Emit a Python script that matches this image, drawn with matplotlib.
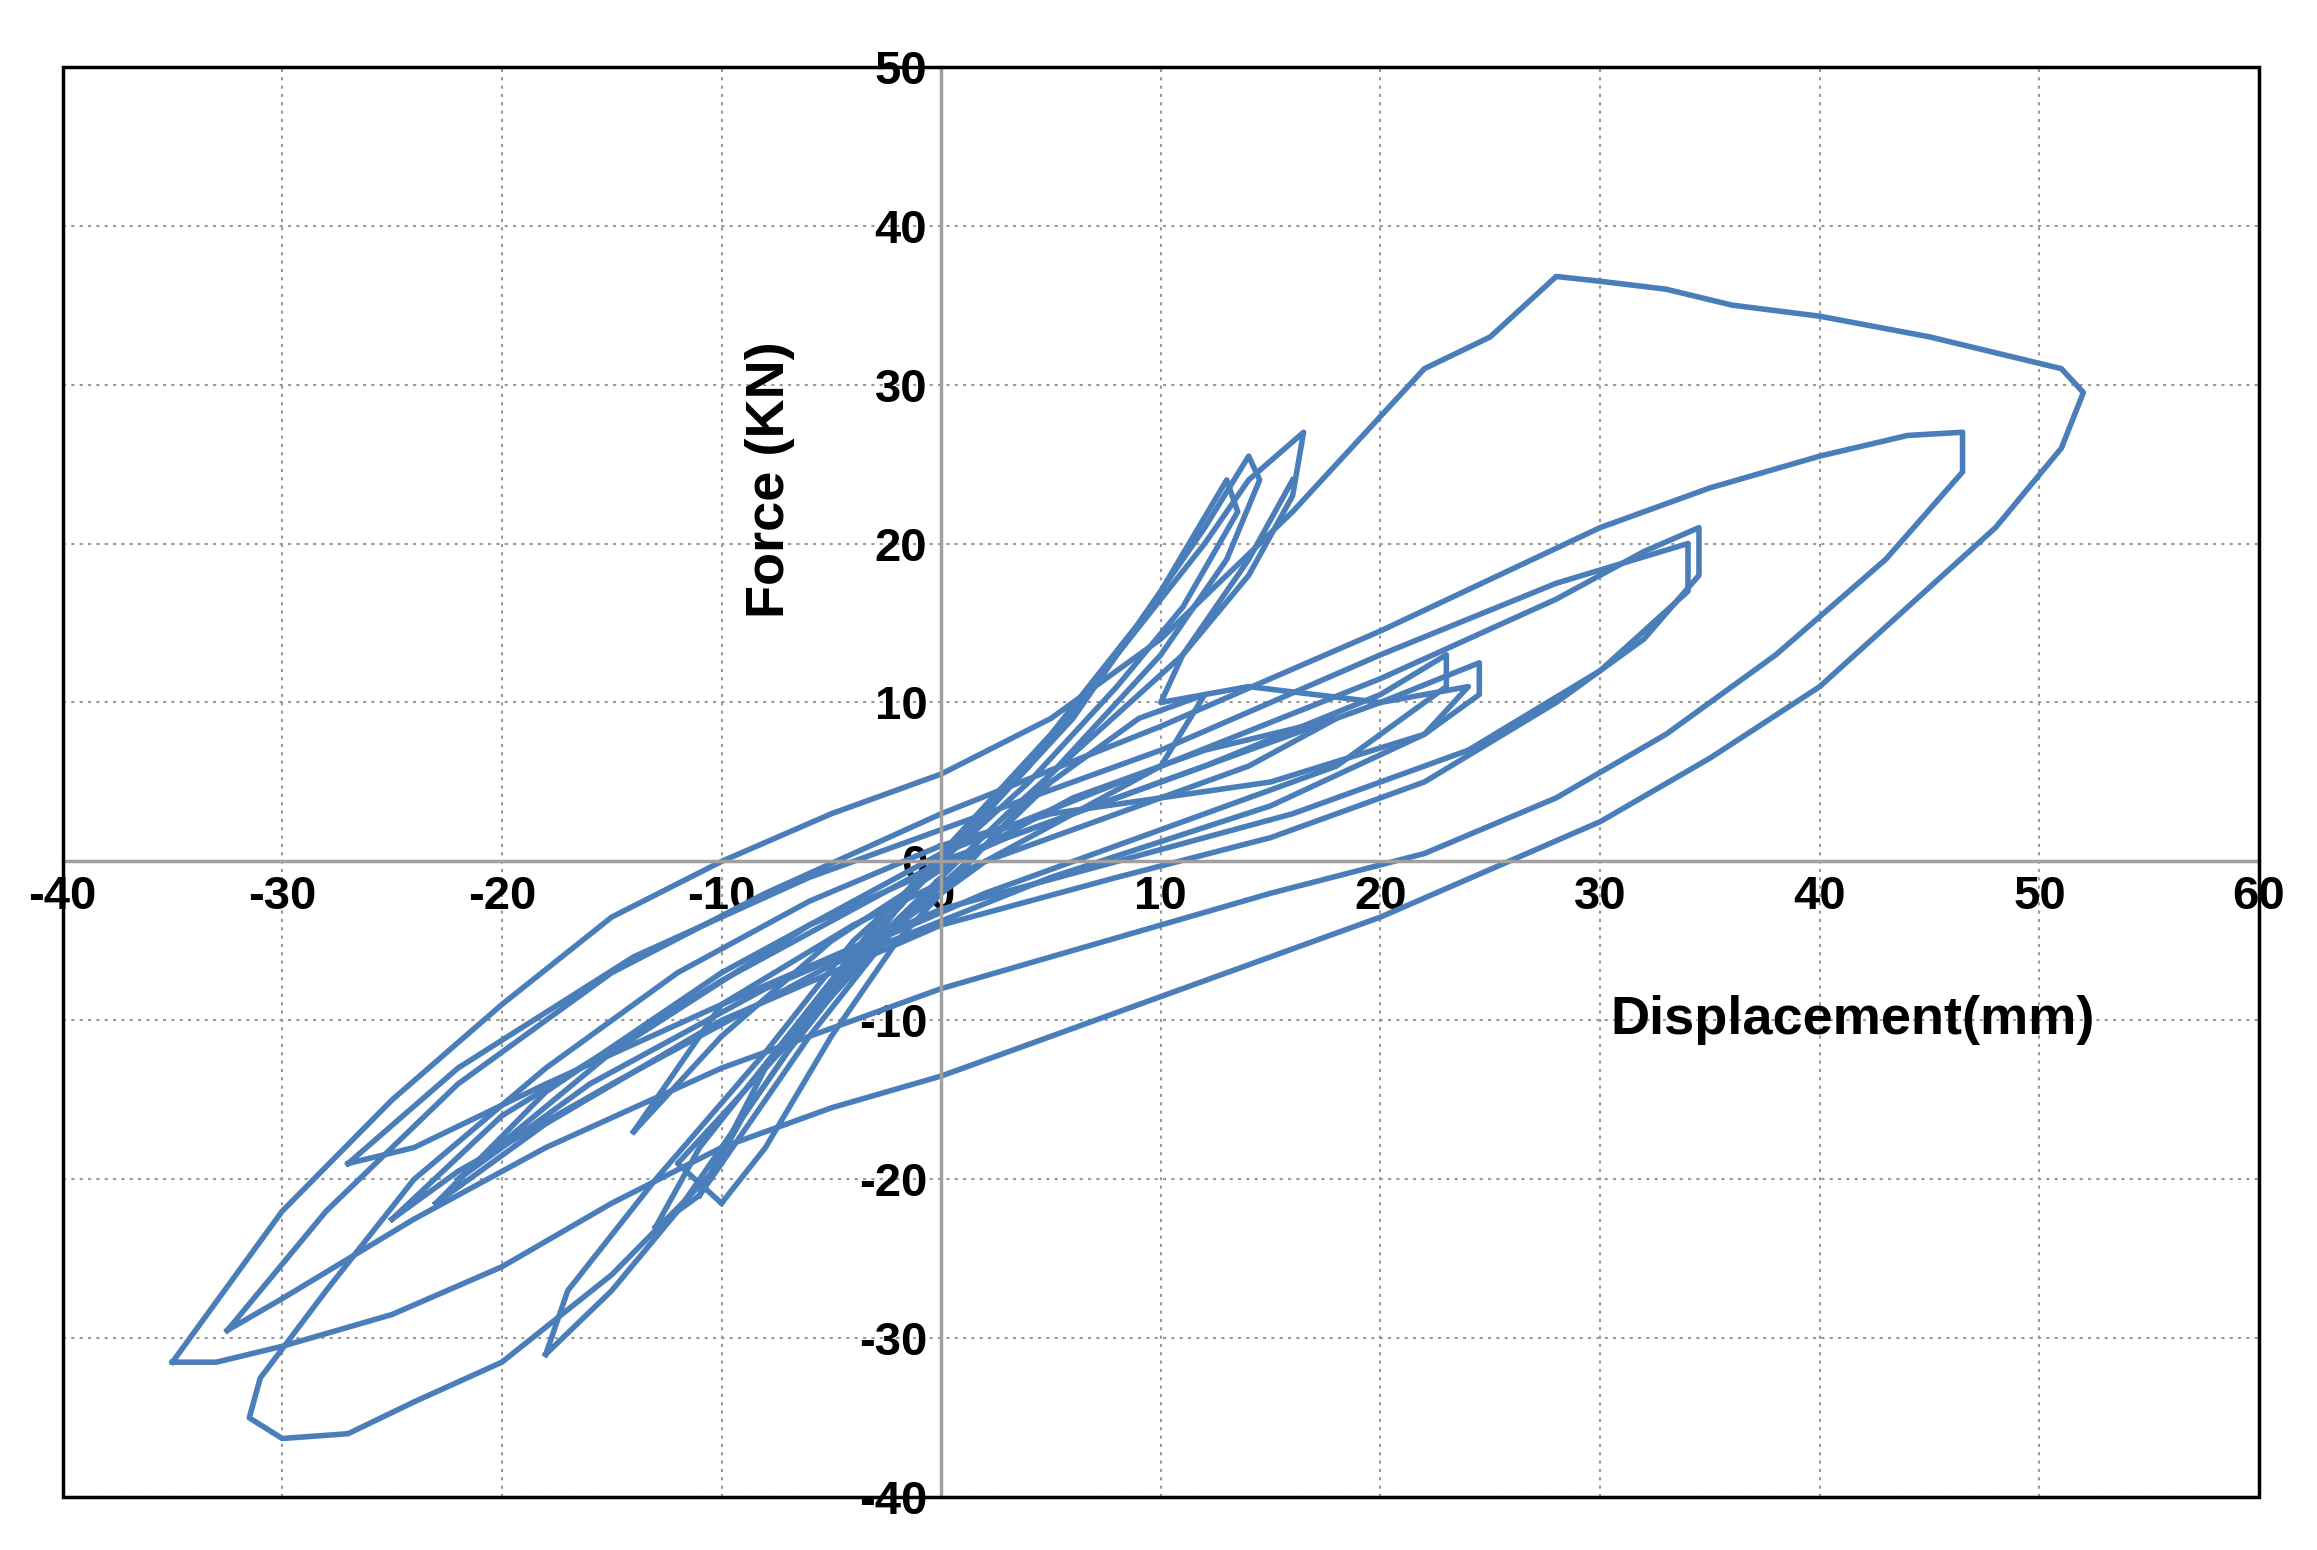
import matplotlib
matplotlib.use("Agg")
import matplotlib.pyplot as plt
from matplotlib.patches import Rectangle

x_ticks = [-40, -30, -20, -10, 0, 10, 20, 30, 40, 50, 60]
y_ticks = [-40, -30, -20, -10, 0, 10, 20, 30, 40, 50]

loop_a = [(-35,-31.5),(-30,-22),(-25,-15),(-20,-9),(-15,-3.5),(-10,0),(-5,3),(0,5.5),(5,9),(10,14),(13,18),(16,22),(18,25),(20,28),(22,31),(25,33),(28,36.8),(30,36.5),(33,36),(36,35),(40,34.3),(45,33),(48,32),(51,31),(52,29.5),(51,26),(48,21),(44,16),(40,11),(35,6.5),(30,2.5),(25,-0.5),(20,-3.5),(15,-6),(10,-8.5),(5,-11),(0,-13.5),(-5,-15.5),(-10,-18),(-15,-21.5),(-20,-25.5),(-25,-28.5),(-30,-30.5),(-33,-31.5),(-35,-31.5)]
loop_a2 = [(-10,-19),(-15,-26),(-20,-31.5),(-24,-34),(-27,-36),(-30,-36.3),(-31.5,-35),(-31,-32.5),(-28,-27),(-24,-20),(-18,-13),(-12,-7),(-6,-2.5),(0,1)]
loop_b = [(-32.5,-29.5),(-28,-22),(-22,-14),(-15,-7),(-8,-2),(0,3),(10,8.5),(20,14.5),(30,21),(35,23.5),(40,25.5),(44,26.8),(46.5,27),(46.5,24.5),(43,19),(38,13),(33,8),(28,4),(22,0.5),(15,-2),(5,-6),(0,-8),(-10,-13),(-18,-18),(-24,-22.5),(-30,-27.5),(-32.5,-29.5)]
loop_c = [(-23,-21.5),(-18,-14.5),(-10,-7),(0,0.5),(10,6),(20,11.5),(28,16.5),(32,19.5),(34.5,21),(34.5,18),(32,14),(28,10),(22,5),(15,1.5),(8,-1),(0,-4),(-10,-10),(-18,-16.5),(-23,-21.5)]
loop_c2 = [(-27,-19),(-22,-13),(-14,-6),(-6,-1),(0,2),(10,7),(20,13),(28,17.5),(34,20),(34,17),(30,12),(24,7),(16,3),(8,0),(0,-3),(-10,-9),(-18,-14),(-24,-18),(-27,-19)]
loop_d = [(-25,-22.5),(-20,-16),(-10,-7.5),(0,0),(10,5),(20,10),(24.5,12.5),(24.5,10.5),(22,8),(15,3.5),(5,-1),(-5,-6.5),(-15,-14),(-22,-19.5),(-25,-22.5)]
loop_d2 = [(-22,-20),(-15,-12),(-6,-4),(3,1.5),(12,6),(20,10.5),(23,13),(23,11),(18,6),(10,2),(2,-2),(-8,-8),(-16,-14),(-22,-20)]
loop_e = [(-18,-31),(-17,-27),(-13,-20),(-8,-12),(-4,-5),(0,0),(4,6),(8,13),(12,20),(14,24),(16.5,27),(16,23),(14,18),(11,13),(7,8),(3,3),(0,-1),(-3,-5),(-7,-12),(-10,-18),(-12,-22),(-15,-27),(-18,-31)]
loop_f = [(-13,-23),(-11,-18),(-7,-11),(-3,-4),(1,2),(5,8),(9,15),(12,21),(14,25.5),(14.5,24),(13,19),(10,13),(6,7),(2,1),(-2,-4),(-6,-11),(-9,-17),(-11,-21),(-13,-23)]
loop_g = [(-11,-21),(-9,-16),(-6,-10),(-2,-3),(2,3),(6,9),(10,17),(13,24),(13.5,22),(11,16),(8,11),(4,5),(0,0),(-4,-6),(-8,-13),(-11,-21)]
loop_h = [(16,24),(14,19),(11,13),(10,10),(14,11),(20,10),(24,11),(22,8),(15,5),(10,4),(5,3),(0,1)]
loop_i = [(-10,-21.5),(-8,-18),(-5,-11),(-2,-5),(2,1),(5,5),(9,9),(12,10.5),(10,6),(6,3),(2,0),(-2,-4),(-6,-10),(-10,-16),(-12,-19),(-10,-21.5)]
loop_j = [(-14,-17),(-10,-11),(-5,-5),(0,-0.5),(6,4),(12,7),(18,9),(14,6),(8,3),(2,0),(-4,-4),(-10,-9),(-14,-17)]
loops = [loop_a, loop_a2, loop_b, loop_c, loop_c2, loop_d, loop_d2, loop_e, loop_f, loop_g, loop_h, loop_i, loop_j]

plt.rcParams['font.family'] = ['Liberation Sans', 'DejaVu Sans']
plt.rcParams['axes.unicode_minus'] = False
fig = plt.figure(figsize=(23.17, 15.5), dpi=100)
ax = fig.add_axes([0.027, 0.034, 0.948, 0.923])
color = '#4a7ebb'
for lp in loops:
    xs = [p[0] for p in lp]
    ys = [p[1] for p in lp]
    ax.plot(xs, ys, color=color, lw=4, solid_joinstyle='round')

ax.set_xlim(-40, 60)
ax.set_ylim(-40, 50)
ax.set_xticks(x_ticks)
ax.set_yticks(y_ticks)
ax.grid(True, color='#999999', linestyle=(0, (1.5, 2.5)), lw=1.5)
for s in ['top', 'right']:
    ax.spines[s].set_visible(False)
ax.spines['left'].set_position('zero')
ax.spines['bottom'].set_position('zero')
for s in ['left', 'bottom']:
    ax.spines[s].set_color('#a0a0a0')
    ax.spines[s].set_linewidth(2.5)
ax.add_patch(Rectangle((0, 0), 1, 1, transform=ax.transAxes, fill=False, lw=2.5, ec='black', zorder=5, clip_on=False))
ax.tick_params(length=0, labelsize=34, pad=10)
for lab in ax.get_xticklabels() + ax.get_yticklabels():
    lab.set_fontweight('bold')
ax.text(-7.8, 24, 'Force (KN)', rotation=90, ha='center', va='center', fontsize=39, fontweight='bold')
ax.text(41.5, -10, 'Displacement(mm)', ha='center', va='center', fontsize=39, fontweight='bold')
fig.savefig('out.png')
